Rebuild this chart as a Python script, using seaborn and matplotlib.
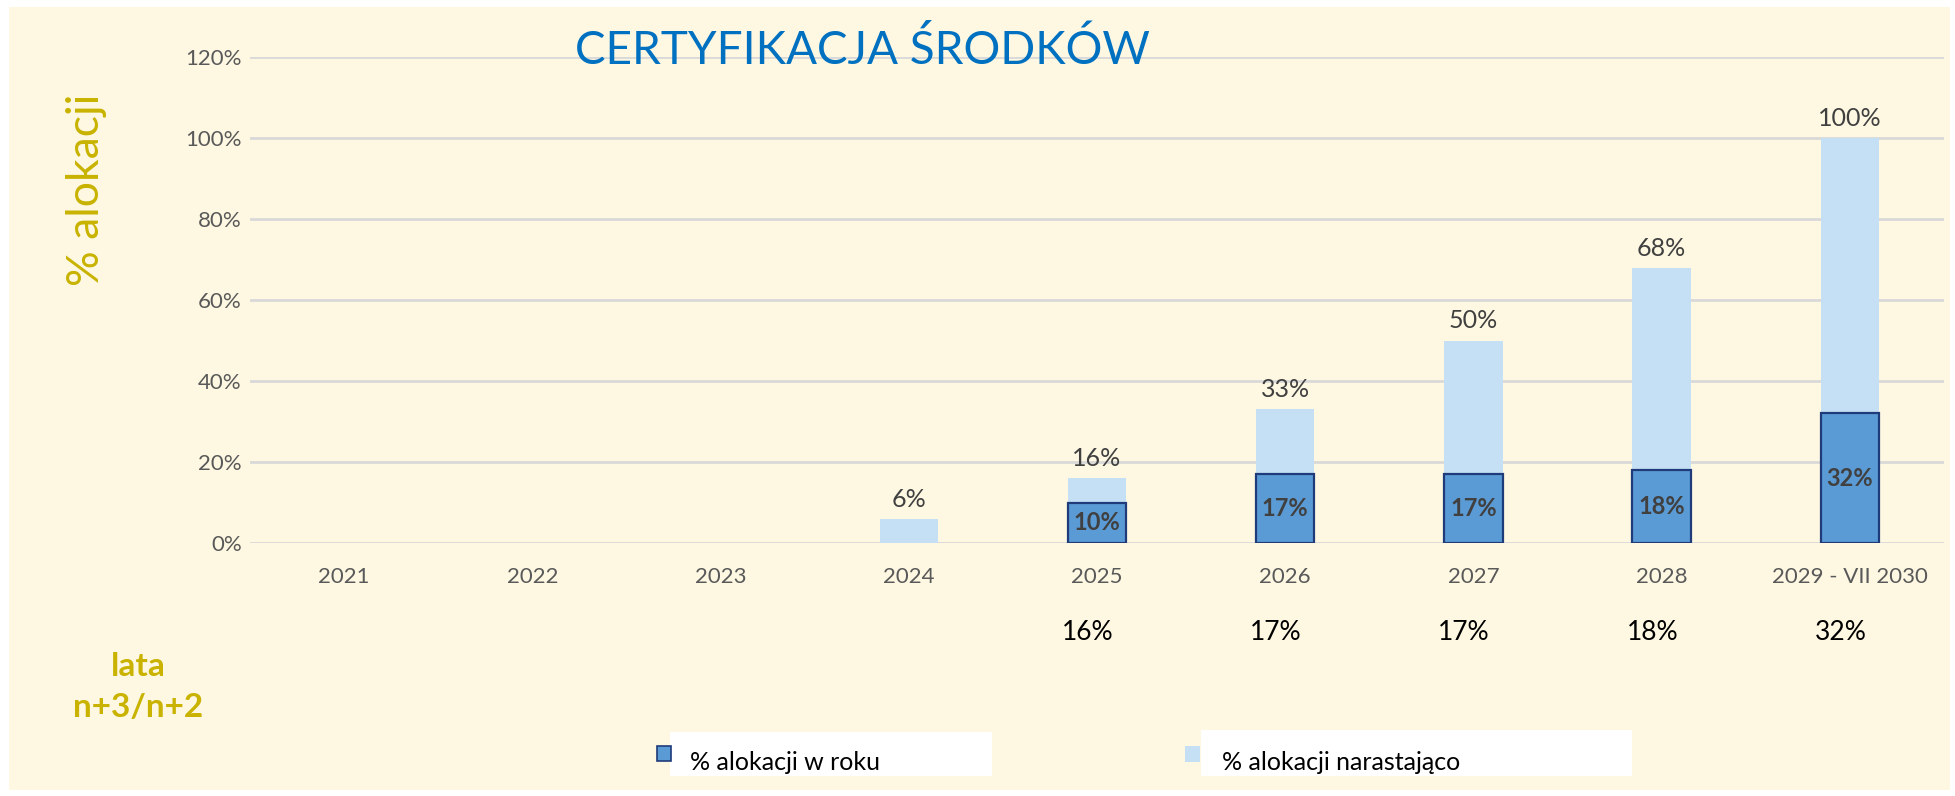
import pandas as pd
import numpy as np
import matplotlib
matplotlib.use("Agg")
import matplotlib.pyplot as plt
from matplotlib.patches import Rectangle
import seaborn as sns

# values
categories = ["2021", "2022", "2023", "2024", "2025", "2026", "2027", "2028", "2029 - VII 2030"]
cumulative = [0, 0, 0, 6, 16, 33, 50, 68, 100]      # % alokacji narastająco
annual = [0, 0, 0, 0, 10, 17, 17, 18, 32]            # % alokacji w roku
row_values = [None, None, None, None, 16, 17, 17, 18, 32]  # row printed under the axis
y_ticks = [0, 20, 40, 60, 80, 100, 120]

title = "CERTYFIKACJA ŚRODKÓW"
y_label = "% alokacji"
x_note = "lata\nn+3/n+2"
legend_labels = ["% alokacji w roku", "% alokacji narastająco"]

CREAM = "#FEF8E2"
LIGHT = "#C5E0F4"
DARK = "#5B9BD5"
DARK_EDGE = "#1F3B7A"
OLIVE = "#C9B300"
GRID = "#D9D9D9"
FONT = ["Lato", "DejaVu Sans"]

sns.set_theme(style="white")
plt.rcParams["font.family"] = FONT

df = pd.DataFrame({"rok": categories, "narastajaco": cumulative, "w_roku": annual})

W, H = 1956, 796
fig = plt.figure(figsize=(W / 100, H / 100), dpi=100, facecolor="white")
fig.patches.append(Rectangle((9 / W, 1 - 790 / H), 1941 / W, 783 / H,
                             transform=fig.transFigure, facecolor=CREAM,
                             edgecolor="none", zorder=-10))

ax = fig.add_axes([250 / W, 1 - 543 / H, 1694 / W, (543 - 57) / H])
ax.set_facecolor("none")

sns.barplot(data=df, x="rok", y="narastajaco", color=LIGHT, width=0.31,
            saturation=1, ax=ax, zorder=2)
n_light = len(ax.patches)
sns.barplot(data=df, x="rok", y="w_roku", color=DARK, width=0.31,
            saturation=1, ax=ax, zorder=3)
for i, p in enumerate(ax.patches[n_light:]):
    if annual[i] > 0:
        p.set_edgecolor(DARK_EDGE)
        p.set_linewidth(1.6)
    else:
        p.set_visible(False)
for i, p in enumerate(ax.patches[:n_light]):
    p.set_edgecolor("none")
    if cumulative[i] == 0:
        p.set_visible(False)

ax.set_ylim(0, 120)
ax.set_xlim(-0.5, len(categories) - 0.5)
ax.set_yticks(y_ticks)
ax.set_yticklabels([f"{t}%" for t in y_ticks])
ax.yaxis.grid(True, color=GRID, linewidth=2)
ax.set_axisbelow(True)
for s in ax.spines.values():
    s.set_visible(False)
ax.tick_params(axis="both", length=0, labelsize=16, labelcolor="#595959")
ax.tick_params(axis="y", pad=6)
ax.tick_params(axis="x", pad=17)
ax.set_xlabel("")
ax.set_ylabel("")

# labels above the cumulative bars
for i, v in enumerate(cumulative):
    if v > 0:
        ax.text(i, v + 2.0, f"{v}%", ha="center", va="bottom",
                fontsize=18, color="#404040")

# labels inside the annual bars
for i, v in enumerate(annual):
    if v > 0:
        ax.text(i, v / 2, f"{v}%", ha="center", va="center",
                fontsize=17, fontweight="bold", color="#404040")

# row of values under the axis
for i, v in enumerate(row_values):
    if v is not None:
        ax.text(i - 0.05, -22, f"{v}%", ha="center", va="center",
                fontsize=19, color="black", clip_on=False)

fig.text(862 / W, 1 - 50 / H, title, ha="center", va="center",
         fontsize=33, color="#0070C0")
fig.text(87 / W, 1 - 190 / H, y_label, ha="center", va="center",
         rotation=90, fontsize=32, color=OLIVE)
fig.text(138 / W, 1 - 687 / H, x_note, ha="center", va="center",
         fontsize=24, fontweight="bold", color=OLIVE, linespacing=1.5)

# legend, drawn as two white boxes with square keys
legend_boxes = [(670, 732, 322, 44), (1201, 730, 431, 46)]
legend_keys = [(657, 746, 14, 15, DARK, DARK_EDGE), (1185, 746, 15, 16, LIGHT, "none")]
legend_text_x = [690, 1222]
for (bx, by, bw, bh), (kx, ky, kw, kh, fc, ec), tx, lab in zip(
        legend_boxes, legend_keys, legend_text_x, legend_labels):
    fig.patches.append(Rectangle((bx / W, 1 - (by + bh) / H), bw / W, bh / H,
                                 transform=fig.transFigure, facecolor="white",
                                 edgecolor="none", zorder=1))
    fig.patches.append(Rectangle((kx / W, 1 - (ky + kh) / H), kw / W, kh / H,
                                 transform=fig.transFigure, facecolor=fc,
                                 edgecolor=ec, linewidth=1.2, zorder=2))
    fig.text(tx / W, 1 - 762 / H, lab, ha="left", va="center",
             fontsize=18, color="black", zorder=3)

fig.savefig("out.png", dpi=100, facecolor="white")
